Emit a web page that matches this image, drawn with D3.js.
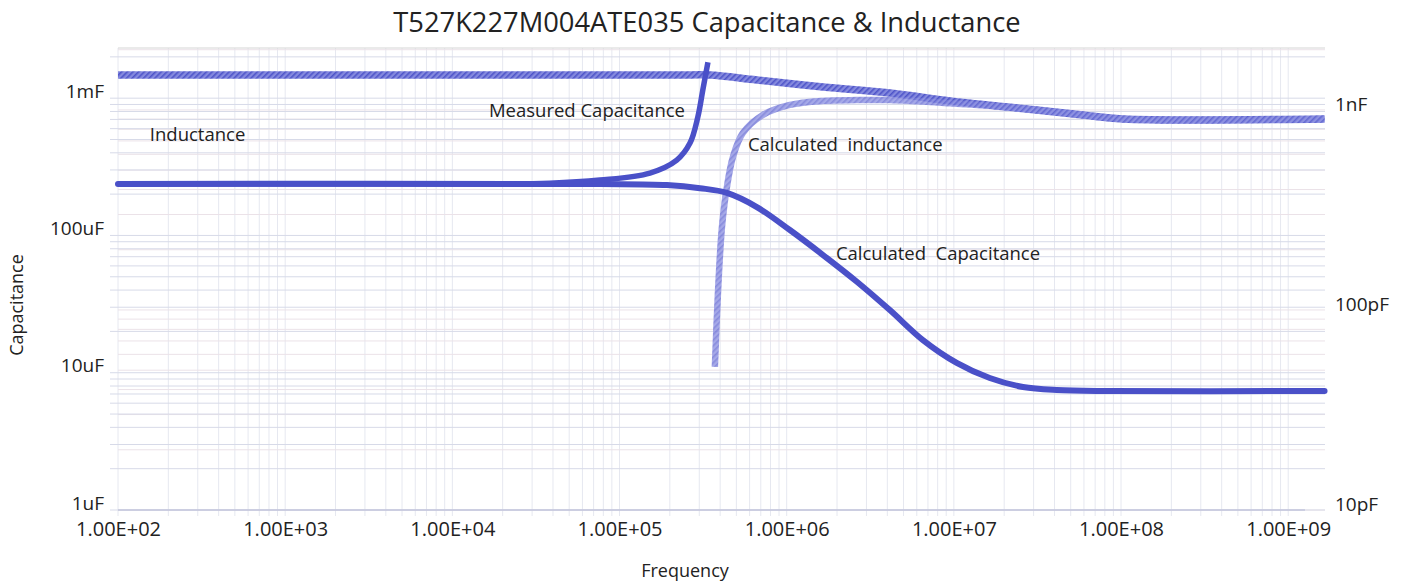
<!DOCTYPE html>
<html>
<head>
<meta charset="utf-8">
<script src="https://cdn.jsdelivr.net/npm/d3@7"></script>
<style>
    body { margin: 0; background: #fff; }
    text { font-family: "Open Sans", sans-serif; fill: #222; }
</style>
</head>
<body>
<svg id="diagram" width="1404" height="582"></svg>
<script>
// frequency (Hz) / value pairs
var measCapFreq  = [1e2, 4.86e3, 3.83e4, 7.63e4, 1.52e5, 2.20e5, 2.64e5, 2.94e5, 3.15e5, 3.38e5];
var measCapValue = [237e-6, 237e-6, 2.40e-4, 2.53e-4, 2.85e-4, 3.54e-4, 4.71e-4, 7.28e-4, 1.146e-3, 1.83e-3];

var calcCapFreq  = [1e2, 7.63e4, 1.92e5, 3.03e5, 4.39e5, 6.63e5, 1.045e6, 1.65e6, 2.63e6, 4.14e6, 6.53e6, 1.04e7, 1.64e7, 2.59e7, 4.13e7, 8.57e7, 1.65e9];
var calcCapValue = [237e-6, 237e-6, 233e-6, 221e-6, 204e-6, 161e-6, 109.5e-6, 72e-6, 46e-6, 28.6e-6, 17.3e-6, 11.8e-6, 9.15e-6, 7.87e-6, 7.48e-6, 7.36e-6, 7.36e-6];

var indFreq  = [1e2, 2.64e5, 3.47e5, 6.63e5, 1.65e6, 4.14e6, 9.47e6, 2.38e7, 5.91e7, 1.025e8, 1.65e9];
var indValue = [1.496e-9, 1.496e-9, 1.496e-9, 1.413e-9, 1.303e-9, 1.216e-9, 1.11e-9, 1.023e-9, 9.44e-10, 9.02e-10, 9.02e-10];

var calcIndFreq  = [3.72e5, 3.88e5, 4.10e5, 4.39e5, 4.77e5, 5.47e5, 7.20e5, 1.045e6, 1.65e6, 2.63e6, 4.14e6, 9.47e6, 2.38e7, 5.91e7, 1.025e8, 1.65e9];
var calcIndValue = [5.19e-11, 1.216e-10, 2.60e-10, 4.12e-10, 5.82e-10, 7.67e-10, 9.44e-10, 1.059e-9, 1.11e-9, 1.12e-9, 1.12e-9, 1.08e-9, 1.023e-9, 9.44e-10, 9.02e-10, 9.02e-10];

var xTicks = [1e2, 1e3, 1e4, 1e5, 1e6, 1e7, 1e8, 1e9];
var leftTicks = [1e-6, 1e-5, 1e-4, 1e-3];
var leftTickLabels = ["1uF", "10uF", "100uF", "1mF"];
var rightTicks = [1e-11, 1e-10, 1e-9];
var rightTickLabels = ["10pF", "100pF", "1nF"];

// text notes, anchored in data space (freq, capacitance)
var noteText = ["Inductance", "Measured Capacitance", "Calculated  inductance", "Calculated  Capacitance"];
var noteFreq = [155, 1.655e4, 5.86e5, 1.97e6];
var noteValue = [4.87e-4, 7.28e-4, 4.12e-4, 6.62e-5];

var svg = d3.select("#diagram");

var plotLeft = 118, plotRight = 1325, plotTop = 48, plotBottom = 510;

var xScale = d3.scaleLog().domain([1e2, 1.66e9]).range([plotLeft, plotRight]);
var yLeft = d3.scaleLog().domain([1e-6, 2.32e-3]).range([plotBottom, plotTop]);
var yRight = d3.scaleLog().domain([1e-11, 2.04e-9]).range([plotBottom, plotTop]);

// hatch patterns for the inductance lines
var defs = svg.append("defs");
function hatch(id, base, stripe) {
    var p = defs.append("pattern")
        .attr("id", id)
        .attr("patternUnits", "userSpaceOnUse")
        .attr("width", 4).attr("height", 4)
        .attr("patternTransform", "rotate(45)");
    p.append("rect").attr("width", 4).attr("height", 4).attr("fill", base);
    p.append("rect").attr("width", 1.6).attr("height", 4).attr("fill", stripe);
}
hatch("hatchInd", "#8489de", "#4f55c9");
hatch("hatchCalcInd", "#8f93e2", "#6a6fd4");

// minor grid values
function logGrid(lo, hi, domain) {
    var out = [];
    for (var e = lo; e <= hi; e++) {
        for (var k = 1; k <= 9; k++) {
            var v = k * Math.pow(10, e);
            if (v >= domain[0] && v <= domain[1] * 1.0001) out.push(v);
        }
    }
    return out;
}

var grid = svg.append("g");

grid.selectAll(".vgrid")
    .data(logGrid(2, 9, xScale.domain()))
    .enter().append("line")
    .attr("x1", d => xScale(d)).attr("x2", d => xScale(d))
    .attr("y1", plotTop).attr("y2", plotBottom + 6)
    .attr("stroke", "#e6e8f0").attr("stroke-width", 1);

grid.selectAll(".hgridR")
    .data(logGrid(-11, -9, yRight.domain()))
    .enter().append("line")
    .attr("x1", plotLeft).attr("x2", plotRight)
    .attr("y1", d => yRight(d)).attr("y2", d => yRight(d))
    .attr("stroke", "#ebe2e8").attr("stroke-width", 1);

grid.selectAll(".hgridL")
    .data(logGrid(-6, -3, yLeft.domain()))
    .enter().append("line")
    .attr("x1", plotLeft - 8).attr("x2", plotRight)
    .attr("y1", d => yLeft(d)).attr("y2", d => yLeft(d))
    .attr("stroke", "#d7dae8").attr("stroke-width", 1);

// frame lines
svg.append("line")
    .attr("x1", plotLeft).attr("x2", plotRight).attr("y1", plotTop).attr("y2", plotTop)
    .attr("stroke", "#d6d6d6").attr("stroke-width", 1.2);
svg.append("line")
    .attr("x1", plotLeft).attr("x2", plotRight - 20).attr("y1", plotBottom).attr("y2", plotBottom)
    .attr("stroke", "#c3c6dc").attr("stroke-width", 1.5);

// axes
var fmtE = function (d) {
    var e = Math.round(Math.log10(d));
    return "1.00E+" + (e < 10 ? "0" + e : e);
};

var xAxis = svg.append("g")
    .attr("transform", "translate(0," + plotBottom + ")")
    .call(d3.axisBottom(xScale).tickValues(xTicks).tickFormat(fmtE).tickSize(0).tickPadding(12));
xAxis.select(".domain").remove();
xAxis.selectAll("text").style("font-size", "20px").style("font-family", "Open Sans");

var yAxisL = svg.append("g")
    .attr("transform", "translate(" + (plotLeft - 14) + ",0)")
    .call(d3.axisLeft(yLeft).tickValues(leftTicks)
        .tickFormat(function (d, i) { return leftTickLabels[i]; }).tickSize(0).tickPadding(0));
yAxisL.select(".domain").remove();
yAxisL.selectAll("text").style("font-size", "19px").style("font-family", "Open Sans")
    .attr("y", -7);

var yAxisR = svg.append("g")
    .attr("transform", "translate(" + (plotRight + 10) + ",0)")
    .call(d3.axisRight(yRight).tickValues(rightTicks)
        .tickFormat(function (d, i) { return rightTickLabels[i]; }).tickSize(0).tickPadding(0));
yAxisR.select(".domain").remove();
yAxisR.selectAll("text").style("font-size", "19px").style("font-family", "Open Sans")
    .attr("y", -6);

// series
function series(freq, vals) {
    return freq.map(function (f, i) { return { f: f, v: vals[i] }; });
}
var smooth = d3.curveCatmullRom.alpha(0.5);
var lineL = d3.line().x(d => xScale(d.f)).y(d => yLeft(d.v)).curve(smooth);
var lineR = d3.line().x(d => xScale(d.f)).y(d => yRight(d.v)).curve(smooth);

svg.append("path")
    .datum(series(indFreq, indValue))
    .attr("d", lineR)
    .attr("fill", "none")
    .attr("stroke", "url(#hatchInd)")
    .attr("stroke-width", 7.5);

svg.append("path")
    .datum(series(calcIndFreq, calcIndValue))
    .attr("d", lineR)
    .attr("fill", "none")
    .attr("stroke", "url(#hatchCalcInd)")
    .attr("stroke-opacity", 0.8)
    .attr("stroke-width", 6.5);

svg.append("path")
    .datum(series(calcCapFreq, calcCapValue))
    .attr("d", lineL)
    .attr("fill", "none")
    .attr("stroke", "#4a50c8")
    .attr("stroke-width", 6)
    .attr("stroke-linecap", "round");

svg.append("path")
    .datum(series(measCapFreq, measCapValue))
    .attr("d", lineL)
    .attr("fill", "none")
    .attr("stroke", "#4a50c8")
    .attr("stroke-width", 5.5);

// notes
svg.selectAll(".note")
    .data(noteText)
    .enter().append("text")
    .attr("class", "note")
    .attr("x", (d, i) => xScale(noteFreq[i]))
    .attr("y", (d, i) => yLeft(noteValue[i]))
    .style("font-size", "18.5px")
    .style("white-space", "pre")
    .text(d => d);

// titles
svg.append("text")
    .attr("x", 707).attr("y", 32)
    .attr("text-anchor", "middle")
    .style("font-size", "27.3px")
    .text("T527K227M004ATE035 Capacitance & Inductance");

svg.append("text")
    .attr("x", 685).attr("y", 577)
    .attr("text-anchor", "middle")
    .style("font-size", "18px")
    .text("Frequency");

svg.append("text")
    .attr("transform", "translate(23,305) rotate(-90)")
    .attr("text-anchor", "middle")
    .style("font-size", "18px")
    .text("Capacitance");
</script>
</body>
</html>
